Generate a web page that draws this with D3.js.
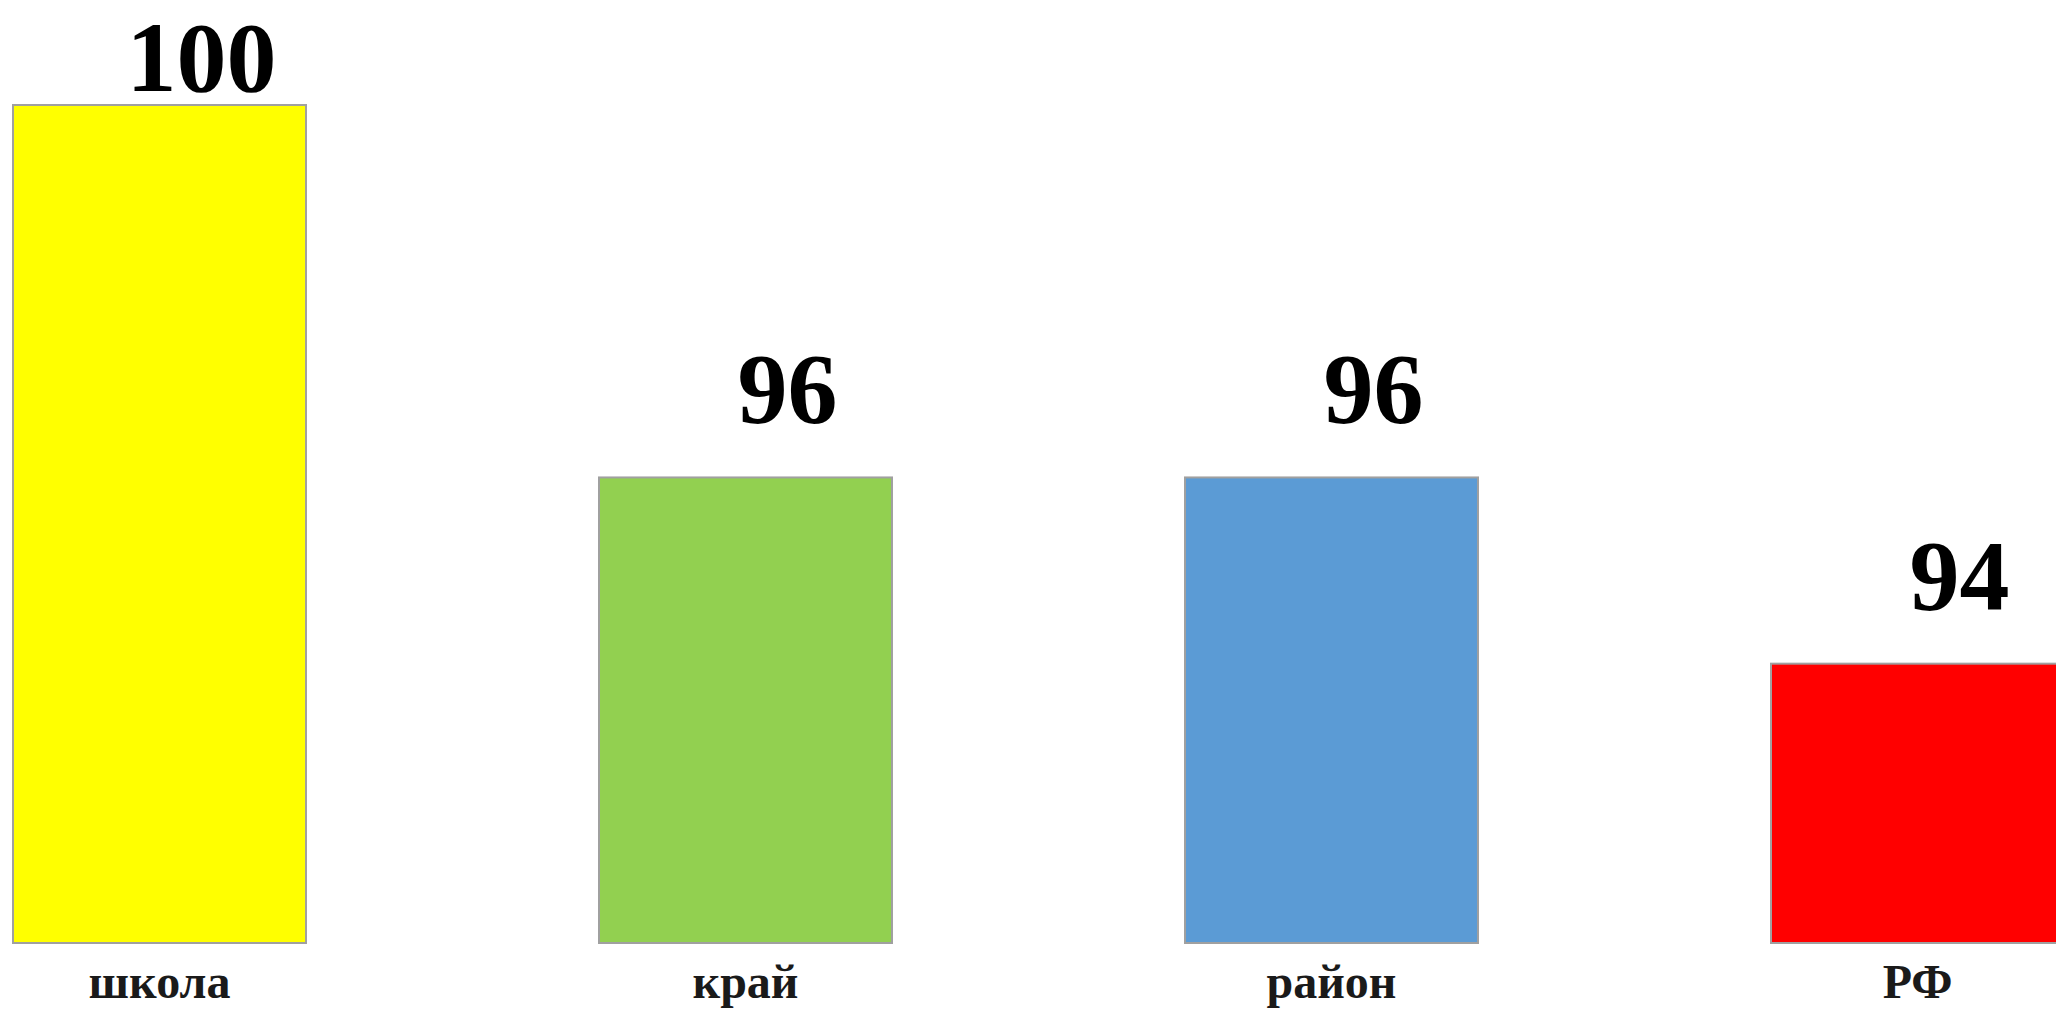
<!DOCTYPE html>
<html><head><meta charset="utf-8">
<script src="https://cdn.jsdelivr.net/npm/d3@7"></script>
<style>html,body{margin:0;padding:0;background:#fff;overflow:hidden}</style>
</head><body>
<svg id="chart" width="2056" height="1013"></svg>
<script>
const categories = ["школа", "край", "район", "РФ"];
const values = [100, 96, 96, 94];
const colors = ["#FFFF00", "#92D050", "#5B9BD5", "#FF0000"];

const svg = d3.select("#chart");
const step = 586;
const x = d3.scaleBand().domain(categories)
  .range([13 - 0.25 * step, 13 - 0.25 * step + 4 * step])
  .paddingInner(0.5).paddingOuter(0.25);
const y = d3.scaleLinear().domain([91, 100]).range([943, 105]);

const data = categories.map((c, i) => ({c, v: values[i], col: colors[i]}));

svg.selectAll("rect.bar").data(data).join("rect")
  .attr("class", "bar")
  .attr("x", d => x(d.c)).attr("width", x.bandwidth())
  .attr("y", d => y(d.v)).attr("height", d => y(91) - y(d.v))
  .attr("fill", d => d.col).attr("stroke", "#a0a0a0").attr("stroke-width", 2);

svg.selectAll("text.val").data(data).join("text")
  .attr("class", "val")
  .attr("x", d => x(d.c) + x.bandwidth() / 2 + 42)
  .attr("y", d => Math.max(y(d.v) - 55, 91))
  .attr("text-anchor", "middle")
  .attr("font-family", "Liberation Serif, Times New Roman, serif")
  .attr("font-weight", "bold").attr("font-size", 100)
  .attr("fill", "#000")
  .text(d => d.v);

const xAxis = svg.append("g").attr("transform", "translate(0,943)")
  .call(d3.axisBottom(x).tickSize(0).tickPadding(0));
xAxis.select(".domain").remove();
xAxis.selectAll("text")
  .attr("y", 55).attr("dy", 0)
  .attr("font-family", "Liberation Serif, Times New Roman, serif")
  .attr("font-weight", "bold").attr("font-size", 48)
  .attr("fill", "#1a1a1a");
</script>
</body></html>
